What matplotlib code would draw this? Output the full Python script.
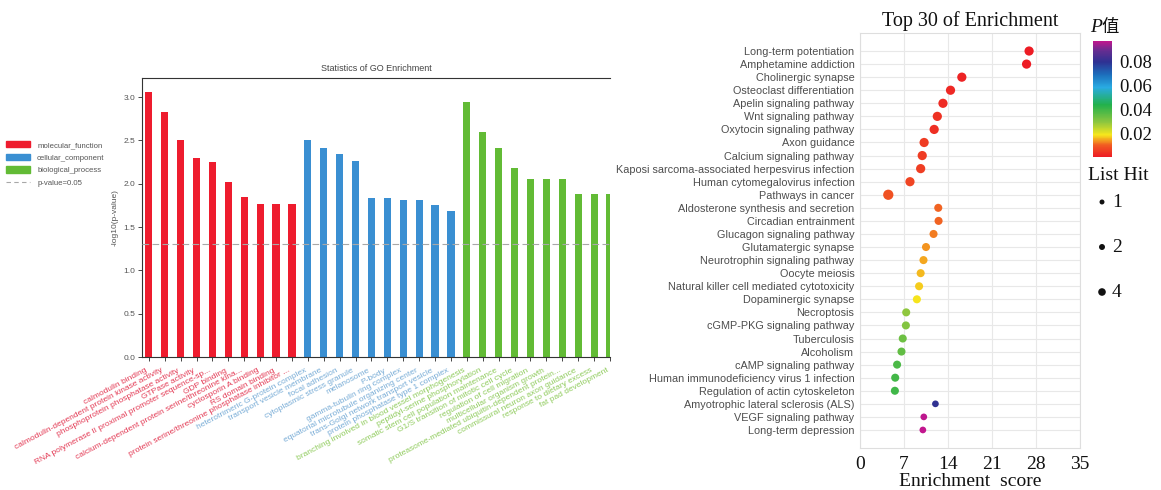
import numpy as np
import matplotlib
matplotlib.use("Agg")
import matplotlib.pyplot as plt
import matplotlib.transforms as mtransforms
from matplotlib.colors import LinearSegmentedColormap, Normalize
from matplotlib.cm import ScalarMappable
from matplotlib.patches import Patch
from matplotlib.lines import Line2D

plt.rcParams['font.family'] = ['Liberation Sans', 'DejaVu Sans']

# ---------------- GO enrichment (-log10 p) ----------------
mf_terms = ["calmodulin binding",
            "calmodulin-dependent protein kinase activity",
            "phosphoprotein phosphatase activity",
            "GTPase activity",
            "RNA polymerase II proximal promoter sequence-sp...",
            "GDP binding",
            "calcium-dependent protein serine/threonine kina...",
            "cyclosporin A binding",
            "RS domain binding",
            "protein serine/threonine phosphatase inhibitor ..."]
mf_vals = [3.06, 2.83, 2.51, 2.30, 2.25, 2.02, 1.85, 1.77, 1.77, 1.77]

cc_terms = ["heterotrimeric G-protein complex",
            "transport vesicle membrane",
            "focal adhesion",
            "cytoplasmic stress granule",
            "melanosome",
            "P-body",
            "gamma-tubulin ring complex",
            "equatorial microtubule organizing center",
            "trans-Golgi network transport vesicle",
            "protein phosphatase type 1 complex"]
cc_vals = [2.51, 2.41, 2.34, 2.26, 1.84, 1.84, 1.81, 1.81, 1.75, 1.69]

bp_terms = ["branching involved in blood vessel morphogenesis",
            "peptidyl-serine phosphorylation",
            "somatic stem cell population maintenance",
            "G1/S transition of mitotic cell cycle",
            "regulation of cell migration",
            "multicellular organism growth",
            "proteasome-mediated ubiquitin-dependent protein...",
            "commissural neuron axon guidance",
            "response to dietary excess",
            "fat pad development"]
bp_vals = [2.94, 2.60, 2.41, 2.18, 2.06, 2.06, 2.06, 1.88, 1.88, 1.88]

go_groups = ["molecular_function", "cellular_component", "biological_process"]
p_cutoff = 0.05

# ---------------- KEGG top 30 ----------------
kegg_terms = ["Long-term potentiation", "Amphetamine addiction", "Cholinergic synapse",
              "Osteoclast differentiation", "Apelin signaling pathway", "Wnt signaling pathway",
              "Oxytocin signaling pathway", "Axon guidance", "Calcium signaling pathway",
              "Kaposi sarcoma-associated herpesvirus infection", "Human cytomegalovirus infection",
              "Pathways in cancer", "Aldosterone synthesis and secretion", "Circadian entrainment",
              "Glucagon signaling pathway", "Glutamatergic synapse", "Neurotrophin signaling pathway",
              "Oocyte meiosis", "Natural killer cell mediated cytotoxicity", "Dopaminergic synapse",
              "Necroptosis", "cGMP-PKG signaling pathway", "Tuberculosis", "Alcoholism",
              "cAMP signaling pathway", "Human immunodeficiency virus 1 infection",
              "Regulation of actin cytoskeleton", "Amyotrophic lateral sclerosis (ALS)",
              "VEGF signaling pathway", "Long-term depression"]
kegg_score = [26.9, 26.5, 16.2, 14.4, 13.2, 12.3, 11.8, 10.2, 9.9, 9.65, 7.95, 4.5,
              12.45, 12.5, 11.7, 10.5, 10.1, 9.65, 9.4, 9.05, 7.35, 7.3, 6.8, 6.6,
              5.9, 5.6, 5.55, 12.0, 10.15, 10.0]
kegg_pvalue = [0.0005, 0.0006, 0.0018, 0.0025, 0.0031, 0.0042, 0.0038, 0.0055, 0.0057, 0.0060,
               0.0072, 0.0090, 0.0110, 0.0108, 0.0122, 0.0140, 0.0150, 0.0162, 0.0172, 0.0188,
               0.0295, 0.0310, 0.0340, 0.0352, 0.0385, 0.0395, 0.0398, 0.0800, 0.0965, 0.0970]
kegg_hits = [3, 3, 3, 3, 3, 3, 3, 3, 3, 3, 3, 4,
             2, 2, 2, 2, 2, 2, 2, 2, 2, 2, 2, 2, 2, 2, 2,
             1, 1, 1]
hit_breaks = [1, 2, 4]
score_ticks = [0, 7, 14, 21, 28, 35]
pvalue_ticks = [0.02, 0.04, 0.06, 0.08]

# ---------------- figure ----------------
W, H = 1161, 490
fig = plt.figure(figsize=(W / 100, H / 100), dpi=100)


def box(x0, y0, x1, y1):
    """pixel box (top-left origin) -> figure fraction rect"""
    return [x0 / W, 1 - y1 / H, (x1 - x0) / W, (y1 - y0) / H]


bar_colors = ["#ee1c2e", "#3a8fd2", "#62bb35"]
label_colors = ["#e33b55", "#78acd6", "#8fcb5c"]
grey_txt = "#555555"

# ---- left: GO bar chart ----
ax = fig.add_axes(box(142, 78, 610, 357))
all_vals = mf_vals + cc_vals + bp_vals
all_terms = mf_terms + cc_terms + bp_terms
group_idx = [0] * len(mf_vals) + [1] * len(cc_vals) + [2] * len(bp_vals)
xpos = np.arange(len(all_vals))
ax.bar(xpos, all_vals, width=0.45, color=[bar_colors[g] for g in group_idx], zorder=2)
ax.axhline(-np.log10(p_cutoff), color="#a8a8a8", lw=0.8, ls=(0, (6, 3)), zorder=3)
ax.set_xlim(-0.43, 28.5)
ax.set_ylim(0, 3.22)
ax.set_yticks(np.arange(0, 3.01, 0.5))
ax.set_yticklabels([f"{v:.1f}" for v in np.arange(0, 3.01, 0.5)])
ax.set_xticks(xpos)
ax.set_xticklabels([])
ax.tick_params(axis="both", length=3, width=0.7, color="#444444", labelsize=6,
               labelcolor=grey_txt, pad=2)
for s in ["left", "bottom", "top"]:
    ax.spines[s].set_color("#333333")
    ax.spines[s].set_linewidth(0.8)
ax.spines["right"].set_visible(False)
ax.set_ylabel("-log10(p-value)", fontsize=6, color=grey_txt, labelpad=3)
ax.set_title("Statistics of GO Enrichment", fontsize=6.5, color="#444444", pad=5)

lab_tr = mtransforms.blended_transform_factory(ax.transData, ax.transAxes) + \
    mtransforms.ScaledTranslation(-2 / 100, -13 / 100, fig.dpi_scale_trans)
for x, term, g in zip(xpos, all_terms, group_idx):
    ax.text(x, 0, term, transform=lab_tr, rotation=28, rotation_mode="anchor",
            ha="right", va="center", fontsize=6, color=label_colors[g], clip_on=False)

handles = [Patch(color=c) for c in bar_colors] + \
          [Line2D([], [], color="#a8a8a8", lw=0.8, ls=(0, (4, 3)))]
fig.legend(handles, go_groups + [f"p-value={p_cutoff}"], loc="upper left",
           bbox_to_anchor=(6 / W, 1 - 141 / H), fontsize=5.6, frameon=False,
           handlelength=3.1, handleheight=0.9, labelspacing=0.62, handletextpad=0.9,
           borderaxespad=0, borderpad=0, labelcolor=grey_txt)

# ---- right: KEGG dot plot ----
cmap = LinearSegmentedColormap.from_list("pval", [
    (0.00, "#ed1c24"), (0.10, "#f15a22"), (0.19, "#f6e71c"), (0.30, "#8dc63f"),
    (0.45, "#22b14c"), (0.60, "#29abe2"), (0.71, "#1c6fbc"), (0.82, "#2e3192"),
    (0.92, "#662d91"), (1.00, "#c2168e")])
norm = Normalize(vmin=min(kegg_pvalue), vmax=max(kegg_pvalue))

serif = ["Liberation Serif", "DejaVu Serif"]


def dot_area(h):
    return (25 + 20 * np.asarray(h, dtype=float)) / 1.929


bx = fig.add_axes(box(860, 33, 1080, 448))
ypos = np.arange(len(kegg_terms))
bx.scatter(kegg_score, ypos, s=dot_area(kegg_hits), c=kegg_pvalue, cmap=cmap, norm=norm,
           edgecolors="none", zorder=3)
bx.set_xlim(0, 35)
bx.set_ylim(len(kegg_terms) - 1 + 1.38, -1.38)
bx.set_yticks(ypos)
bx.set_yticklabels(kegg_terms, fontsize=7.8, color="#4d4d4d")
bx.set_xticks(score_ticks)
bx.set_xticklabels([str(t) for t in score_ticks], fontfamily=serif, fontsize=14, color="#111111")
bx.tick_params(axis="y", length=0, pad=4)
bx.tick_params(axis="x", length=0, pad=6)
bx.grid(True, color="#e8e8e8", lw=0.8)
bx.set_axisbelow(True)
for s in bx.spines.values():
    s.set_color("#dedede")
    s.set_linewidth(0.8)
bx.set_xlabel("Enrichment  score", fontfamily=serif, fontsize=14, color="#111111", labelpad=0)
bx.set_title("Top 30 of Enrichment", fontfamily=serif, fontsize=14.5, color="#111111", pad=5)

# colour bar
cax = fig.add_axes(box(1093, 41, 1112, 157))
cb = fig.colorbar(ScalarMappable(norm=norm, cmap=cmap), cax=cax)
cb.outline.set_visible(False)
cb.set_ticks(pvalue_ticks)
cb.set_ticklabels([f"{t:.2f}" for t in pvalue_ticks])
cax.tick_params(length=0, pad=5, labelsize=13.5)
for t in cax.get_yticklabels():
    t.set_fontfamily(serif)
    t.set_color("#111111")

# overlay for legend titles and size keys (pixel coordinates)
ov = fig.add_axes([0, 0, 1, 1], facecolor="none")
ov.set_xlim(0, W)
ov.set_ylim(H, 0)
ov.axis("off")
ov.text(1090, 28, "P", fontfamily=serif, fontstyle="italic", fontsize=14,
        color="#111111", ha="left", va="center")
ov.text(1101, 27, "值", fontfamily=["Noto Sans CJK SC", "DejaVu Sans"], fontsize=12.5,
        color="#111111", ha="left", va="center")
ov.text(1088, 175, "List Hit", fontfamily=serif, fontsize=14, color="#111111",
        ha="left", va="center")
key_y = 202
for h in hit_breaks:
    ov.scatter([1102], [key_y], s=dot_area([h]) * 0.55, color="#111111", edgecolors="none")
    ov.text(1112, key_y, str(h), fontfamily=serif, fontsize=14, color="#111111",
            ha="left", va="center")
    key_y += 45

fig.savefig("out.png", dpi=100)
